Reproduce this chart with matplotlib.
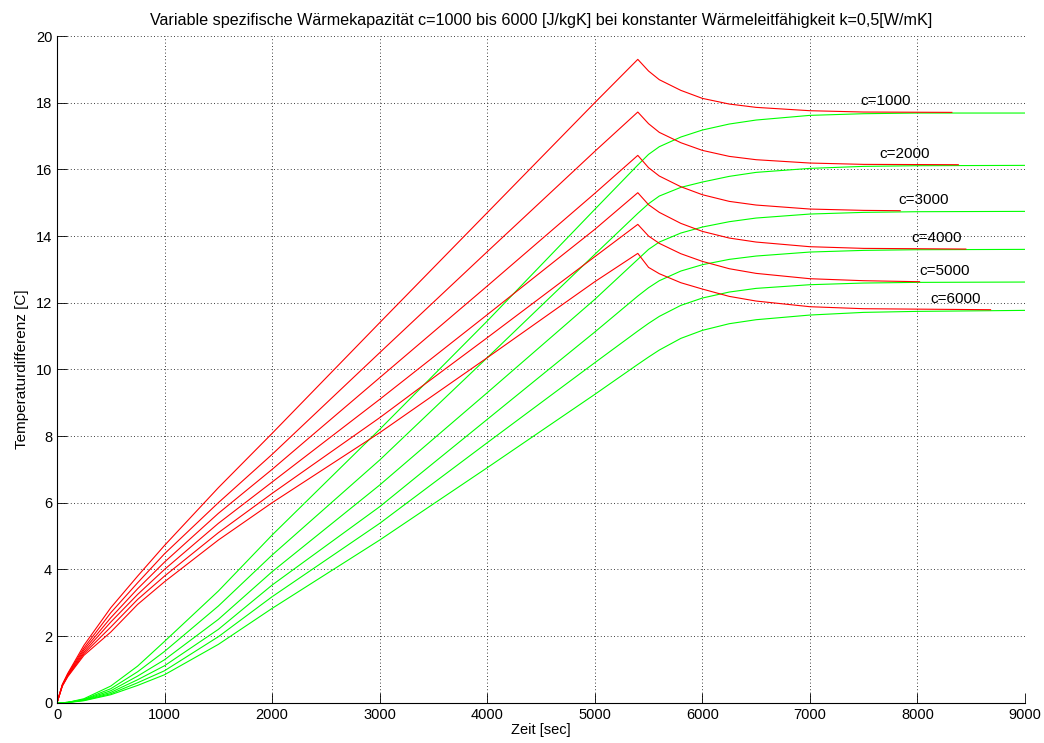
import matplotlib
matplotlib.use('Agg')
import matplotlib.pyplot as plt

plt.rcParams['font.family'] = ['Liberation Sans', 'DejaVu Sans']

# heat capacities of the six runs
c_values = [1000, 2000, 3000, 4000, 5000, 6000]

# time points of the hot side (red); last point is the end of each red line
t_red = [0, 50, 100, 250, 500, 750, 1000, 1500, 2000, 3000, 4000, 5000, 5400,
         5500, 5600, 5800, 6000, 6250, 6500, 7000, 7500]
red_end = [8320, 8380, 7840, 8450, 8020, 8680]

red_c1000 = [0, 0.55, 0.88, 1.72, 2.85, 3.80, 4.72, 6.45, 8.08, 11.40, 14.70, 18.00, 19.30,
             18.95, 18.69, 18.37, 18.13, 17.96, 17.86, 17.76, 17.72, 17.71]
red_c2000 = [0, 0.54, 0.86, 1.64, 2.70, 3.60, 4.47, 6.00, 7.45, 10.50, 13.53, 16.54, 17.72,
             17.37, 17.11, 16.80, 16.57, 16.39, 16.29, 16.19, 16.15, 16.14]
red_c3000 = [0, 0.53, 0.84, 1.58, 2.55, 3.42, 4.22, 5.68, 7.00, 9.75, 12.50, 15.28, 16.42,
             16.05, 15.80, 15.48, 15.24, 15.04, 14.93, 14.81, 14.77, 14.76]
red_c4000 = [0, 0.52, 0.82, 1.52, 2.42, 3.25, 4.00, 5.38, 6.62, 9.10, 11.64, 14.20, 15.30,
             14.94, 14.71, 14.38, 14.14, 13.94, 13.82, 13.68, 13.63, 13.61]
red_c5000 = [0, 0.51, 0.80, 1.47, 2.27, 3.10, 3.80, 5.10, 6.28, 8.55, 10.95, 13.38, 14.35,
             14.00, 13.78, 13.47, 13.24, 13.02, 12.88, 12.72, 12.66, 12.63]
red_c6000 = [0, 0.50, 0.78, 1.42, 2.12, 2.95, 3.63, 4.88, 6.00, 8.10, 10.35, 12.63, 13.48,
             13.06, 12.87, 12.60, 12.41, 12.19, 12.05, 11.88, 11.82, 11.79]

# cold side (green)
t_green = [0, 50, 100, 250, 500, 750, 1000, 1500, 2000, 3000, 4000, 5000, 5400,
           5500, 5600, 5800, 6000, 6250, 6500, 7000, 7500, 8000, 9000]

green_c1000 = [0, 0, 0.01, 0.12, 0.50, 1.10, 1.84, 3.35, 5.03, 8.20, 11.45, 14.80, 16.13,
               16.45, 16.68, 16.97, 17.18, 17.36, 17.48, 17.62, 17.67, 17.69, 17.69]
green_c2000 = [0, 0, 0.01, 0.10, 0.42, 0.93, 1.54, 2.90, 4.43, 7.28, 10.35, 13.45, 14.68,
               14.97, 15.20, 15.46, 15.62, 15.79, 15.91, 16.03, 16.09, 16.11, 16.12]
green_c3000 = [0, 0, 0.01, 0.09, 0.36, 0.80, 1.29, 2.50, 3.93, 6.53, 9.30, 12.10, 13.30,
               13.60, 13.82, 14.09, 14.27, 14.43, 14.54, 14.66, 14.71, 14.73, 14.74]
green_c4000 = [0, 0, 0.01, 0.08, 0.31, 0.69, 1.11, 2.20, 3.53, 5.88, 8.50, 11.12, 12.20,
               12.45, 12.66, 12.95, 13.14, 13.30, 13.40, 13.52, 13.57, 13.59, 13.60]
green_c5000 = [0, 0, 0.01, 0.07, 0.27, 0.60, 0.96, 1.98, 3.18, 5.38, 7.80, 10.20, 11.15,
               11.38, 11.59, 11.92, 12.14, 12.32, 12.43, 12.54, 12.59, 12.61, 12.62]
green_c6000 = [0, 0, 0.005, 0.06, 0.24, 0.52, 0.84, 1.75, 2.83, 4.88, 7.05, 9.25, 10.15,
               10.37, 10.58, 10.93, 11.17, 11.37, 11.49, 11.63, 11.71, 11.74, 11.77]

reds = [red_c1000, red_c2000, red_c3000, red_c4000, red_c5000, red_c6000]
greens = [green_c1000, green_c2000, green_c3000, green_c4000, green_c5000, green_c6000]

fig = plt.figure(figsize=(10.44, 7.43), dpi=100)
ax = fig.add_axes([0.0546, 0.0542, 0.9272, 0.8973])

for g in greens:
    ax.plot(t_green, g, color='#00ff00', linewidth=0.8)
for r, t_end in zip(reds, red_end):
    ax.plot(t_red + [t_end], r, color='#ff0000', linewidth=0.8)

# labels sit just above the final temperature of each run
label_x = [7700, 7885, 8055, 8175, 8250, 8355]
for c, x, r in zip(c_values, label_x, reds):
    ax.text(x, r[-1] + 0.33, 'c=%d' % c, ha='center', va='center', fontsize=11)

ax.set_xlim(0, 9000)
ax.set_ylim(0, 20)
ax.set_xticks(range(0, 9001, 1000))
ax.set_yticks(range(0, 21, 2))
ax.grid(True, linestyle=(0, (1, 3)), color='black', linewidth=0.6)
ax.spines['top'].set_visible(False)
ax.spines['right'].set_visible(False)
ax.tick_params(direction='in', length=7, width=0.6, labelsize=10.5)
ax.set_xlabel('Zeit [sec]', fontsize=10.5, labelpad=1)
ax.set_ylabel('Temperaturdifferenz [C]', fontsize=11, labelpad=5)
ax.set_title('Variable spezifische Wärmekapazität c=1000 bis 6000 [J/kgK] bei konstanter '
             'Wärmeleitfähigkeit k=0,5[W/mK]', fontsize=11.6, pad=8)

plt.savefig('out.png', dpi=100)
plt.close()
